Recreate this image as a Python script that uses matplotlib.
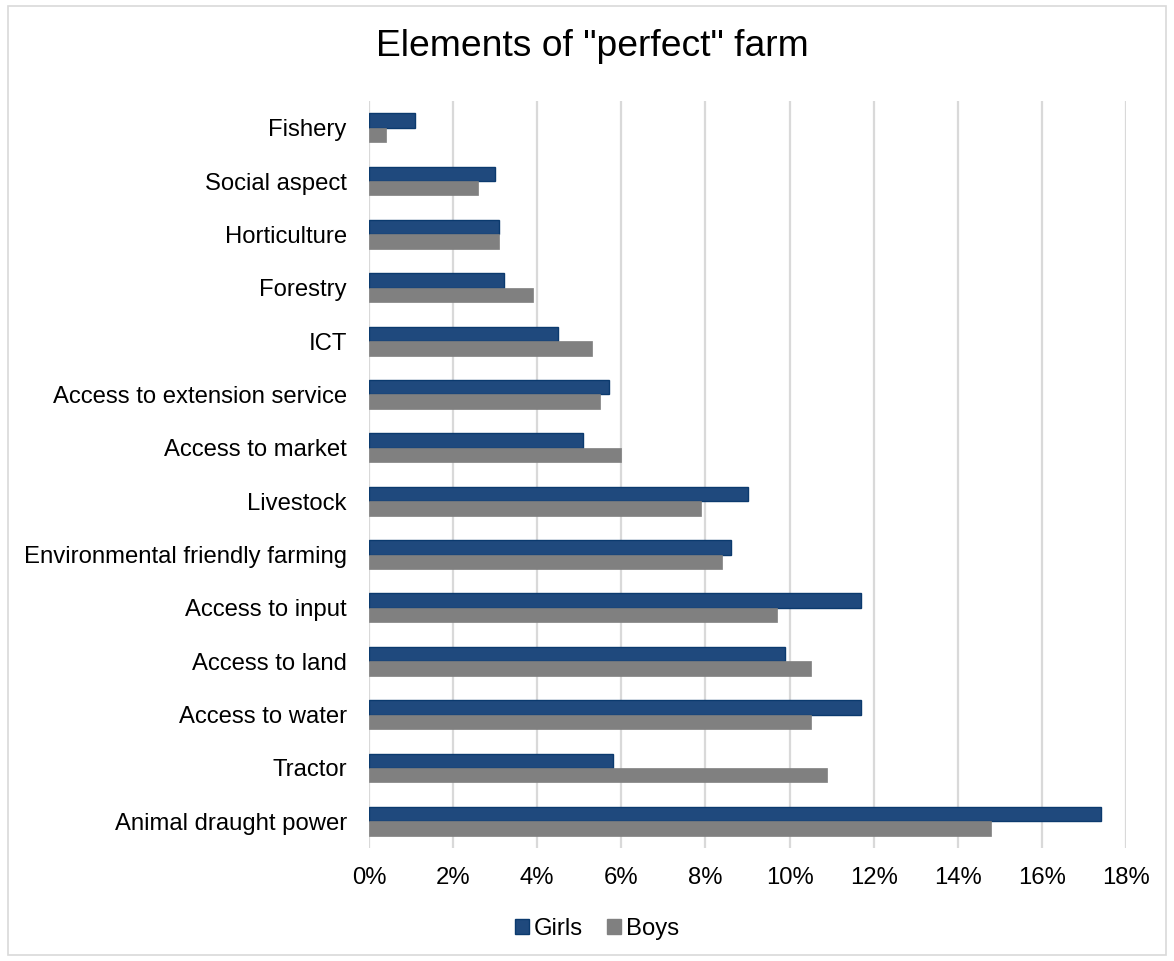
import matplotlib.pyplot as plt
import matplotlib.patches as mpatches
from matplotlib.ticker import FuncFormatter, MultipleLocator
import numpy as np

plt.rcParams['font.family'] = ['Liberation Sans', 'DejaVu Sans']

# categories listed top to bottom
categories = ['Fishery', 'Social aspect', 'Horticulture', 'Forestry', 'ICT',
              'Access to extension service', 'Access to market', 'Livestock',
              'Environmental friendly farming', 'Access to input',
              'Access to land', 'Access to water', 'Tractor',
              'Animal draught power']
girls = [1.1, 3.0, 3.1, 3.2, 4.5, 5.7, 5.1, 9.0, 8.6, 11.7, 9.9, 11.7, 5.8, 17.4]
boys = [0.4, 2.6, 3.1, 3.9, 5.3, 5.5, 6.0, 7.9, 8.4, 9.7, 10.5, 10.5, 10.9, 14.8]

girls_col = '#1F497D'
boys_col = '#808080'

fig = plt.figure(figsize=(11.74, 9.61), dpi=100)
ax = fig.add_axes([369 / 1174, 1 - 848 / 961, (1126 - 369) / 1174, (848 - 101) / 961])

y = np.arange(len(categories))
h = 0.27
ax.barh(y - h / 2, girls, height=h, color=girls_col, edgecolor='#0B3A6E',
        linewidth=1.0, label='Girls', zorder=3)
ax.barh(y + h / 2, boys, height=h, color=boys_col, edgecolor=boys_col,
        linewidth=0.5, label='Boys', zorder=3)

ax.set_ylim(len(categories) - 0.5, -0.5)
ax.set_xlim(0, 18)
ax.xaxis.set_major_locator(MultipleLocator(2))
ax.xaxis.set_major_formatter(FuncFormatter(lambda v, p: f'{v:.0f}%'))
ax.set_yticks(y)
ax.set_yticklabels(categories)
ax.tick_params(axis='y', length=0, pad=16, labelsize=17.2, labelcolor='#000000')
ax.tick_params(axis='x', length=0, pad=14, labelsize=17.2, labelcolor='#000000')
ax.grid(axis='x', color='#D9D9D9', linewidth=1.6, zorder=0)
for s in ax.spines.values():
    s.set_visible(False)

fig.text(592 / 1174, 1 - 47 / 961, 'Elements of "perfect" farm',
         ha='center', va='center', fontsize=26.8)

handles = [mpatches.Patch(facecolor=girls_col, edgecolor='#0B3A6E', label='Girls'),
           mpatches.Patch(facecolor=boys_col, edgecolor=boys_col, label='Boys')]
fig.legend(handles=handles, loc='center', bbox_to_anchor=(597 / 1174, 1 - 929 / 961),
           ncol=2, frameon=False, fontsize=17.2, handlelength=0.6, handleheight=0.6,
           handletextpad=0.2, columnspacing=1.0)

# light frame around the whole chart
fig.patches.append(mpatches.Rectangle((8 / 1174, 6 / 961), 1 - 16 / 1174, 1 - 12 / 961,
                                      transform=fig.transFigure, fill=False,
                                      edgecolor='#D9D9D9', linewidth=1.2))

fig.savefig('out.png', dpi=100)
